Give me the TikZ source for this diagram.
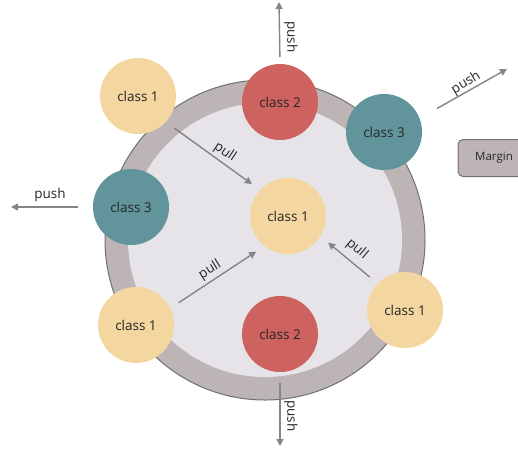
\documentclass[tikz,border=0pt]{standalone}
\usepackage{fontspec}
\setmainfont{Open Sans}
\usetikzlibrary{arrows.meta}

\definecolor{sand}{HTML}{F3D6A0}
\definecolor{brick}{HTML}{CE625E}
\definecolor{teal}{HTML}{62949B}
\definecolor{ringgray}{HTML}{BDB5B5}
\definecolor{ringline}{HTML}{707070}
\definecolor{innergray}{HTML}{E7E4E9}
\definecolor{arrowgray}{HTML}{858585}

\begin{document}
\begin{tikzpicture}[x=1pt,y=-1pt,
  cls/.style={circle, minimum size=76pt, inner sep=0pt, text=black!85, font=\fontsize{13.5}{16}\selectfont},
  one/.style={cls, fill=sand},
  two/.style={cls, fill=brick},
  three/.style={cls, fill=teal},
  lbl/.style={inner sep=0pt, text=black!85, font=\fontsize{13.5}{16}\selectfont},
  flow/.style={draw=arrowgray, line width=1.4pt, -{Triangle[length=7pt,width=7pt]}},
]
\useasboundingbox (0,0) rectangle (518,448);

% the ring
\fill[ringgray, draw=ringline, line width=1pt] (265,240) circle (160pt);
\fill[innergray] (265,240) circle (137pt);

\node(oneTL) [one] at (138,96) {class 1};
\node(threeL) [three] at (131,207) {class 3};
\node(twoT) [two] at (280,102) {class 2};
\node(threeR) [three] at (384,132) {class 3};
\node(oneC) [one] at (288,216) {class 1};
\node(oneBL) [one] at (136,325) {class 1};
\node(twoB) [two] at (280,334) {class 2};
\node(oneR) [one] at (405,310) {class 1};

\node(margin) [draw=ringline, fill=ringgray, rounded corners=5pt, line width=1pt,
   minimum width=72pt, minimum height=37pt, text=black!85, font=\fontsize{11.5}{14}\selectfont]
   at (494,158) {Margin};

% pull
\draw[flow, shorten <=10pt, shorten >=10pt] (oneTL.-43) -- (oneC.137);
\draw[flow, shorten <=10pt, shorten >=10pt] (oneBL.26) -- (oneC.232);
\draw[flow, shorten <=10pt, shorten >=10pt] (oneR.136) -- (oneC.-32);
\node(pullTL) [lbl, rotate=-34] at (225,152) {pull};
\node(pullBL) [lbl, rotate=32] at (210,270) {pull};
\node(pullR) [lbl, rotate=-40] at (357,249) {pull};

% push
\coordinate (outN) at (279,2);
\coordinate (outW) at (11,207);
\coordinate (outNE) at (507,69);
\coordinate (outS) at (280,446);
\draw[flow, shorten <=7pt] (twoT.north) -- (outN);
\draw[flow, shorten <=15pt] (threeL.west) -- (outW);
\draw[flow, shorten <=20pt] (threeR.21) -- (outNE);
\draw[flow, shorten <=11pt] (twoB.south) -- (outS);
\node(pushN) [lbl, rotate=-90] at (291,37) {push};
\node(pushW) [lbl] at (50,195) {push};
\node(pushNE) [lbl, rotate=31] at (466,83) {push};
\node(pushS) [lbl, rotate=-90] at (291,416) {push};

\end{tikzpicture}
\end{document}
